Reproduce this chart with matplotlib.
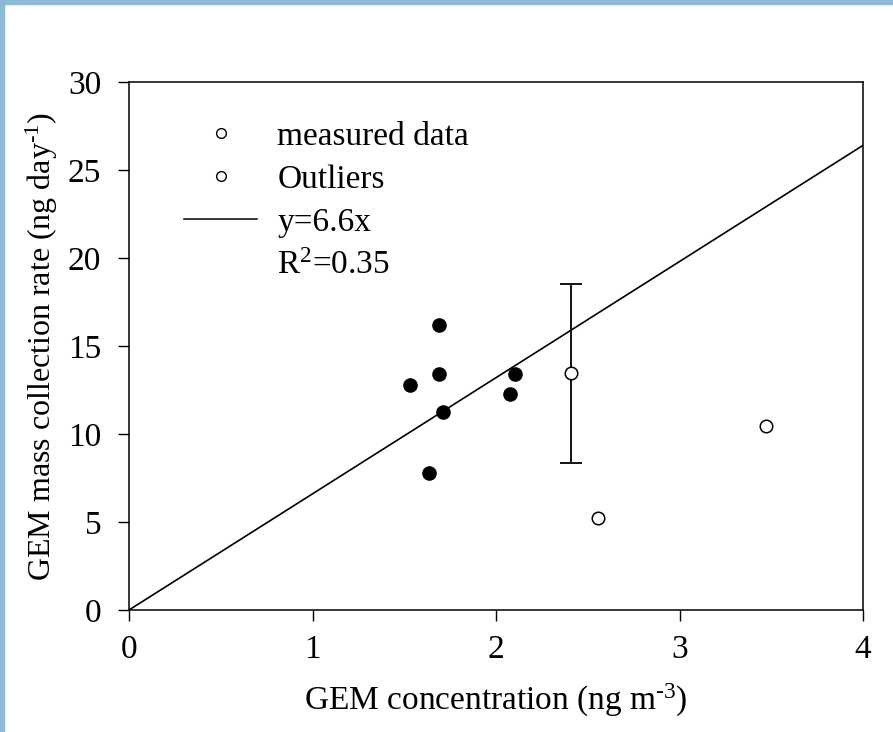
import numpy as np
import matplotlib.pyplot as plt
from matplotlib.lines import Line2D
from matplotlib.patches import Rectangle

plt.rcParams['font.family'] = ['Liberation Serif', 'DejaVu Serif']
plt.rcParams['mathtext.fontset'] = 'custom'
plt.rcParams['mathtext.rm'] = 'Liberation Serif'
plt.rcParams['mathtext.it'] = 'Liberation Serif:italic'

# dane
meas_x = [1.53, 1.69, 1.69, 1.71, 1.635, 2.075, 2.105]
meas_y = [12.8, 16.2, 13.4, 11.25, 7.8, 12.25, 13.4]
out_x = [2.41, 2.555, 3.47]
out_y = [13.45, 5.2, 10.45]
err_x = [2.41]
err_y = [13.45]
err_lo = [5.1]
err_hi = [5.05]
slope = 6.6
fit_x = np.array([0, 4])

fs = 24

fig = plt.figure(figsize=(8.93, 7.32), dpi=100)
ax = fig.add_axes([129/893, 1-610/732, (863-129)/893, (610-82)/732])

ax.plot(fit_x, slope*fit_x, color='black', lw=1.2)
ax.errorbar(err_x, err_y, yerr=[err_lo, err_hi], fmt='none', ecolor='black',
            elinewidth=1.3, capsize=8, capthick=1.3)
ax.plot(meas_x, meas_y, 'o', color='black', ms=9.5)
ax.plot(out_x, out_y, 'o', mfc='white', mec='black', mew=1.1, ms=9)

ax.set_xlim(0, 4)
ax.set_ylim(0, 30)
ax.set_xticks([0, 1, 2, 3, 4])
ax.set_yticks([0, 5, 10, 15, 20, 25, 30])
ax.tick_params(direction='out', length=8, width=1, labelsize=fs)
ax.tick_params(axis='x', pad=10)
ax.tick_params(axis='y', pad=12)
for s in ax.spines.values():
    s.set_linewidth(1.1)
ax.set_xlabel('GEM concentration (ng m$^{\\mathregular{\\text{-}3}}$)', fontsize=fs, labelpad=12)
ax.set_ylabel('GEM mass collection rate (ng day$^{\\mathregular{\\text{-}1}}$)', fontsize=23, labelpad=6)

handles = [
    Line2D([], [], ls='none', marker='o', mfc='white', mec='black', ms=7, mew=1),
    Line2D([], [], ls='none', marker='o', mfc='white', mec='black', ms=7, mew=1),
    Line2D([], [], color='black', lw=1.1),
    Line2D([], [], ls='none'),
]
labels = ['measured data', 'Outliers', 'y=6.6x', 'R$^{\\mathregular{2}}$=0.35']
ax.legend(handles, labels, loc='upper left', bbox_to_anchor=(0.075, 0.925),
          frameon=False, fontsize=fs, handlelength=2.2, handletextpad=0.6,
          labelspacing=0.37, borderaxespad=0, borderpad=0)

# niebieska ramka z lewej i u gory
border = '#8fb9d3'
fig.patches.append(Rectangle((0, 0), 4/893, 1, transform=fig.transFigure,
                             color=border, zorder=10))
fig.patches.append(Rectangle((0, 1-4/732), 1, 4/732, transform=fig.transFigure,
                             color=border, zorder=10))

plt.savefig('out.png', dpi=100)
